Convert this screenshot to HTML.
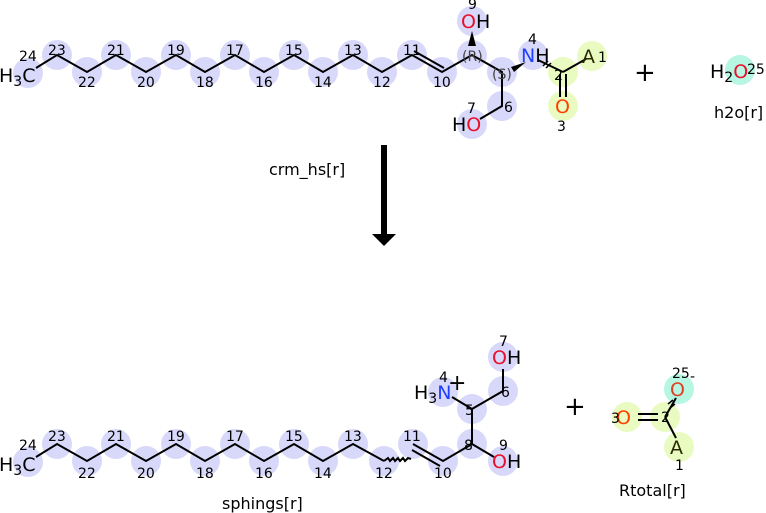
<!DOCTYPE html>
<html><head><style>body{margin:0;background:#fff}svg{display:block}text{font-family:"DejaVu Sans","Liberation Sans",sans-serif}</style></head><body>
<svg width="766" height="513" viewBox="0 0 766 513" xmlns="http://www.w3.org/2000/svg">
<g fill="#d8d8fa">
<circle cx="28" cy="73" r="15"/><circle cx="57" cy="55" r="15"/><circle cx="87" cy="72" r="15"/><circle cx="116" cy="55" r="15"/><circle cx="146" cy="72" r="15"/><circle cx="176" cy="55" r="15"/><circle cx="205" cy="72" r="15"/><circle cx="235" cy="55" r="15"/><circle cx="264" cy="72" r="15"/><circle cx="294" cy="55" r="15"/><circle cx="323" cy="72" r="15"/><circle cx="353" cy="55" r="15"/><circle cx="382" cy="72" r="15"/><circle cx="412" cy="55" r="15"/><circle cx="442" cy="72" r="15"/><circle cx="472" cy="55" r="15"/><circle cx="502" cy="72" r="15"/><circle cx="502" cy="106" r="15"/><circle cx="472" cy="124" r="15"/><circle cx="472" cy="21" r="15"/><circle cx="533" cy="55" r="15"/>
<circle cx="28" cy="462" r="15"/><circle cx="57" cy="444" r="15"/><circle cx="87" cy="461" r="15"/><circle cx="116" cy="444" r="15"/><circle cx="146" cy="461" r="15"/><circle cx="176" cy="444" r="15"/><circle cx="205" cy="461" r="15"/><circle cx="235" cy="444" r="15"/><circle cx="264" cy="461" r="15"/><circle cx="294" cy="444" r="15"/><circle cx="323" cy="461" r="15"/><circle cx="353" cy="444" r="15"/><circle cx="384" cy="461" r="15"/><circle cx="413" cy="444" r="15"/><circle cx="443" cy="461" r="15"/><circle cx="472" cy="444" r="15"/><circle cx="472" cy="409" r="15"/><circle cx="503" cy="391" r="15"/><circle cx="503" cy="357" r="15"/><circle cx="443" cy="392" r="15"/><circle cx="503" cy="461" r="15"/>
</g>
<g fill="#e9fbc0"><circle cx="563" cy="72" r="15"/><circle cx="592" cy="56" r="15"/><circle cx="563" cy="106" r="15"/><circle cx="627" cy="417" r="15"/><circle cx="665" cy="417" r="15"/><circle cx="679" cy="447" r="15"/></g>
<g fill="#b8f6e4"><circle cx="740" cy="70" r="15"/><circle cx="679" cy="389" r="15"/></g>
<g stroke="#000" stroke-width="2" fill="none">
<polyline points="36,68 57,55 87,72 116,55 146,72 176,55 205,72 235,55 264,72 294,55 323,72 353,55 382,72 412,55 442,72 472,55 502,72 502,106 480,119"/>
<line x1="414" y1="51" x2="444" y2="68"/><line x1="538" y1="60" x2="563" y2="72"/><line x1="563" y1="72" x2="586" y2="59"/>
<line x1="560" y1="74" x2="560" y2="97"/><line x1="566" y1="74" x2="566" y2="97"/>
<polyline points="36,457 57,444 87,461 116,444 146,461 176,444 205,461 235,444 264,461 294,444 323,461 353,444 384,461"/>
<path d="M384,461 l4,-3 l2,3 l3,-3 l2,3 l3,-3 l2,3 l3,-3 l2,3 l3,-3 l3,1"/>
<polyline points="413,444 443,461 472,444 472,409 503,391 503,369"/><line x1="412" y1="450" x2="440" y2="466"/>
<line x1="472" y1="409" x2="452" y2="397"/><line x1="472" y1="444" x2="494" y2="457"/>
<line x1="638" y1="414" x2="658" y2="414"/><line x1="638" y1="420" x2="658" y2="420"/><line x1="665" y1="417" x2="676" y2="398"/><line x1="665" y1="417" x2="676" y2="438"/>
</g>
<polygon points="472,31 468,46 476,46"/><polygon points="526,62 511,67 514,72"/>
<g stroke="#000" stroke-width="1.5"><line x1="543" y1="66" x2="548" y2="61"/><line x1="546" y1="68" x2="551" y2="63"/><line x1="668" y1="404" x2="673" y2="400"/><line x1="670" y1="408" x2="675" y2="404"/></g>
<rect x="381" y="145" width="6" height="90"/><polygon points="372,234 396,234 384,246"/>
<g font-size="19" fill="#000">
<text x="-1" y="82">H<tspan font-size="14" dy="4">3</tspan><tspan dy="-4">C</tspan></text>
<text x="-1" y="471">H<tspan font-size="14" dy="4">3</tspan><tspan dy="-4">C</tspan></text>
<text x="461" y="28"><tspan fill="#e8102a">O</tspan>H</text>
<text x="452" y="131">H<tspan fill="#e8102a">O</tspan></text>
<text x="521" y="62"><tspan fill="#2040ff">N</tspan>H</text>
<text x="582" y="63" fill="#2a2a00">A</text>
<text x="555" y="113" fill="#ff4000">O</text>
<text x="710" y="78">H<tspan font-size="14" dy="4">2</tspan><tspan dy="-4" fill="#e8102a">O</tspan></text>
<text x="492" y="364"><tspan fill="#e8102a">O</tspan>H</text>
<text x="492" y="468"><tspan fill="#e8102a">O</tspan>H</text>
<text x="414" y="399">H<tspan font-size="14" dy="4">3</tspan><tspan dy="-4" fill="#2040ff">N</tspan></text>
<text x="448" y="390" font-size="22">+</text>
<text x="616" y="424" fill="#ff4000">O</text>
<text x="670" y="396" fill="#e04020">O</text>
<text x="670" y="454" fill="#2a2a00">A</text>
<text x="634" y="81" font-size="26">+</text><text x="564" y="415" font-size="26">+</text>
<text x="269" y="175" font-size="16">crm_hs[r]</text>
<text x="714" y="118" font-size="16">h2o[r]</text>
<text x="222" y="509" font-size="16">sphings[r]</text>
<text x="619" y="496" font-size="16">Rtotal[r]</text>
</g>
<g font-size="14" fill="#000">
<text x="19" y="61">24</text><text x="48" y="55">23</text><text x="78" y="87">22</text><text x="107" y="55">21</text><text x="137" y="87">20</text><text x="167" y="55">19</text><text x="196" y="87">18</text><text x="226" y="55">17</text><text x="255" y="87">16</text><text x="285" y="55">15</text><text x="314" y="87">14</text><text x="344" y="55">13</text><text x="373" y="87">12</text><text x="403" y="55">11</text><text x="433" y="87">10</text>
<text x="468" y="9">9</text><text x="462" y="61" fill="#444">(R)</text><text x="492" y="79" fill="#444">(S)</text><text x="504" y="112">6</text><text x="467" y="113">7</text><text x="528" y="44">4</text><text x="557" y="131">3</text><text x="598" y="62">1</text><text x="554" y="80">2</text><text x="747" y="74">25</text>
<text x="19" y="450">24</text><text x="48" y="441">23</text><text x="78" y="478">22</text><text x="107" y="441">21</text><text x="137" y="478">20</text><text x="167" y="441">19</text><text x="196" y="478">18</text><text x="226" y="441">17</text><text x="255" y="478">16</text><text x="285" y="441">15</text><text x="314" y="478">14</text><text x="344" y="441">13</text><text x="375" y="478">12</text><text x="403" y="441">11</text><text x="434" y="478">10</text>
<text x="464" y="450">8</text><text x="465" y="415">5</text><text x="501" y="397">6</text><text x="499" y="346">7</text><text x="439" y="382">4</text><text x="499" y="450">9</text>
<text x="611" y="423">3</text><text x="661" y="422">2</text><text x="672" y="378">25</text><text x="690" y="381">-</text><text x="675" y="470">1</text>
</g>
</svg>
</body></html>
